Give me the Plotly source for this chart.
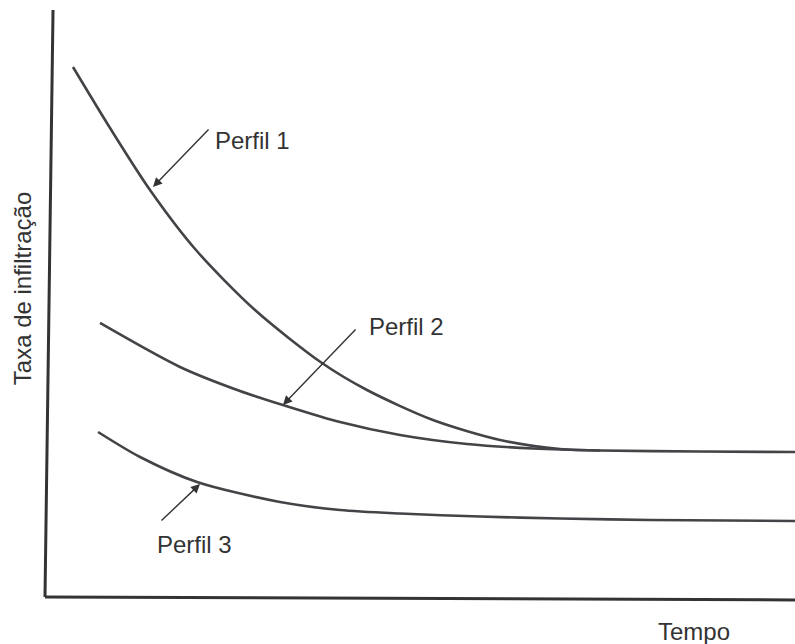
import plotly.graph_objects as go

# Data (arbitrary units 0-100)
perfil1_x = [3.73, 8.67, 14.0, 20.13, 28.0, 36.93, 42.93, 51.73, 60.67, 68.67, 74.0]
perfil1_y = [90.29, 79.9, 69.34, 59.11, 48.89, 39.86, 35.26, 30.15, 26.75, 25.21, 24.96]

perfil2_x = [7.33, 18.0, 26.0, 31.73, 39.33, 47.33, 56.27, 65.07, 74.0, 87.33, 100.0]
perfil2_y = [46.68, 39.18, 35.09, 32.71, 29.81, 27.60, 26.06, 25.30, 24.96, 24.79, 24.70]

perfil3_x = [7.07, 12.67, 20.27, 31.33, 39.33, 47.33, 58.0, 68.67, 80.67, 100.0]
perfil3_y = [28.11, 23.85, 19.59, 16.18, 14.82, 14.22, 13.71, 13.37, 13.12, 12.95]

labels = ["Perfil 1", "Perfil 2", "Perfil 3"]
label_x = [22.4, 42.93, 14.67]
label_y = [77.85, 46.0, 8.86]
arrow_tip_x = [14.4, 31.73, 20.67]
arrow_tip_y = [69.85, 32.71, 19.25]
arrow_tail_x = [22.0, 41.6, 15.33]
arrow_tail_y = [79.9, 45.83, 12.78]

x_title = "Tempo"
y_title = "Taxa de infiltração"

line_color = "#444448"
text_color = "#333333"
font_family = "Liberation Sans, Arial, sans-serif"

fig = go.Figure()
for xs, ys, name in [(perfil1_x, perfil1_y, labels[0]),
                     (perfil2_x, perfil2_y, labels[1]),
                     (perfil3_x, perfil3_y, labels[2])]:
    fig.add_trace(go.Scatter(x=xs, y=ys, mode="lines", name=name,
                             line=dict(color=line_color, width=2.6, shape="spline", smoothing=0.8),
                             hoverinfo="skip", showlegend=False))

annotations = []
for i in range(3):
    annotations.append(dict(x=arrow_tip_x[i], y=arrow_tip_y[i], xref="x", yref="y",
                            ax=arrow_tail_x[i], ay=arrow_tail_y[i], axref="x", ayref="y",
                            text="", showarrow=True, arrowhead=2, arrowsize=1.3,
                            arrowwidth=1.4, arrowcolor="#333333", standoff=0))
    annotations.append(dict(x=label_x[i], y=label_y[i], xref="x", yref="y",
                            text=labels[i], showarrow=False, xanchor="left", yanchor="middle",
                            font=dict(family=font_family, size=24, color=text_color)))

annotations.append(dict(x=-0.0307, y=0.526, xref="paper", yref="paper", text=y_title,
                        textangle=-90, showarrow=False, xanchor="center", yanchor="middle",
                        font=dict(family=font_family, size=24, color=text_color)))
annotations.append(dict(x=0.865, y=-0.0596, xref="paper", yref="paper", text=x_title,
                        showarrow=False, xanchor="center", yanchor="middle",
                        font=dict(family=font_family, size=24, color=text_color)))

shapes = [
    dict(type="line", xref="paper", yref="paper", x0=0, y0=0, x1=0.0107, y1=1,
         line=dict(color="#333336", width=3)),
    dict(type="line", xref="paper", yref="paper", x0=0, y0=0, x1=1, y1=-0.005,
         line=dict(color="#333336", width=3)),
]

fig.update_layout(
    width=795, height=644,
    margin=dict(l=45, r=0, t=10, b=47),
    paper_bgcolor="white", plot_bgcolor="white",
    xaxis=dict(range=[0, 100], visible=False, fixedrange=True),
    yaxis=dict(range=[0, 100], visible=False, fixedrange=True),
    annotations=annotations, shapes=shapes,
)

fig.write_html("out.html", config={"displayModeBar": False},
               post_script="document.body.style.margin='0';document.body.style.overflow='hidden';")
